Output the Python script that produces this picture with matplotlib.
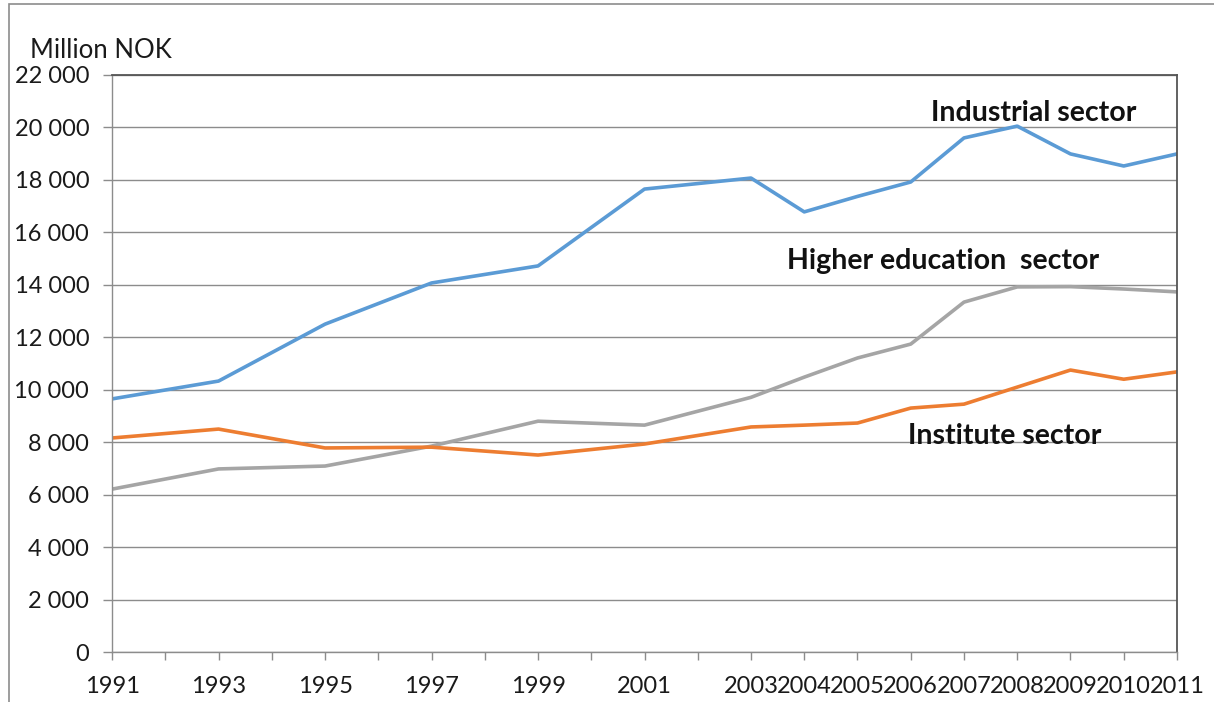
import matplotlib
matplotlib.use("Agg")
import matplotlib.pyplot as plt
from matplotlib.ticker import FuncFormatter

YEARS = [1991, 1993, 1995, 1997, 1999, 2001, 2003, 2004, 2005, 2006,
         2007, 2008, 2009, 2010, 2011]
INDUSTRIAL = [9650, 10330, 12500, 14070, 14720, 17650, 18070, 16780, 17370,
              17920, 19600, 20050, 18990, 18530, 18990]
HIGHER_EDU = [6210, 6980, 7090, 7850, 8800, 8650, 9710, 10480, 11210,
              11740, 13340, 13920, 13930, 13840, 13730]
INSTITUTE = [8160, 8500, 7780, 7810, 7510, 7930, 8580, 8650, 8730,
             9300, 9450, 10100, 10750, 10400, 10680]

plt.rcParams["font.family"] = ["Lato", "DejaVu Sans"]

fig = plt.figure(figsize=(12.14, 7.02), dpi=100)
ax = fig.add_axes([0.0923, 0.0712, 0.8772, 0.822])

# outer chart frame (cut off at right/bottom like the reference)
fig.add_artist(plt.Rectangle((9 / 1214, -0.05), 1.1, 1 - 4 / 702 + 0.05,
                             transform=fig.transFigure, fill=False,
                             edgecolor="#8c8c8c", lw=1.2))

ax.plot(YEARS, INDUSTRIAL, color="#5B9BD5", lw=2.6, solid_joinstyle="round")
ax.plot(YEARS, HIGHER_EDU, color="#A5A5A5", lw=2.6, solid_joinstyle="round")
ax.plot(YEARS, INSTITUTE, color="#ED7D31", lw=2.6, solid_joinstyle="round")

ax.set_xlim(1991, 2011)
ax.set_ylim(0, 22000)
ax.set_yticks(range(0, 22001, 2000))
ax.yaxis.set_major_formatter(FuncFormatter(lambda v, p: f"{int(v):,}".replace(",", " ")))
ax.set_xticks(range(1991, 2012))
ax.set_xticklabels([str(y) if y in YEARS else "" for y in range(1991, 2012)])
ax.grid(axis="y", color="#8c8c8c", lw=1)
ax.set_axisbelow(True)

for s in ("left", "bottom"):
    ax.spines[s].set_color("#8c8c8c")
    ax.spines[s].set_linewidth(1)
for s in ("top", "right"):
    ax.spines[s].set_color("#555555")
    ax.spines[s].set_linewidth(1.3)

ax.tick_params(axis="y", length=6.5, width=1, color="#8c8c8c", pad=10,
               labelsize=17, labelcolor="#1a1a1a")
ax.tick_params(axis="x", length=6, width=1, color="#8c8c8c", pad=11,
               labelsize=17, labelcolor="#1a1a1a")

fig.text(30 / 1214, 1 - 50 / 702, "Million NOK", fontsize=18.5,
         color="#1a1a1a", va="center", ha="left")

ax.text(2008.3, 20550, "Industrial sector", fontsize=20.5, fontweight="bold",
        ha="center", va="center", color="#111111")
ax.text(2006.6, 14900, "Higher education  sector", fontsize=20.5,
        fontweight="bold", ha="center", va="center", color="#111111")
ax.text(2007.77, 8250, "Institute sector", fontsize=20.5, fontweight="bold",
        ha="center", va="center", color="#111111")

fig.savefig("out.png", dpi=100)
